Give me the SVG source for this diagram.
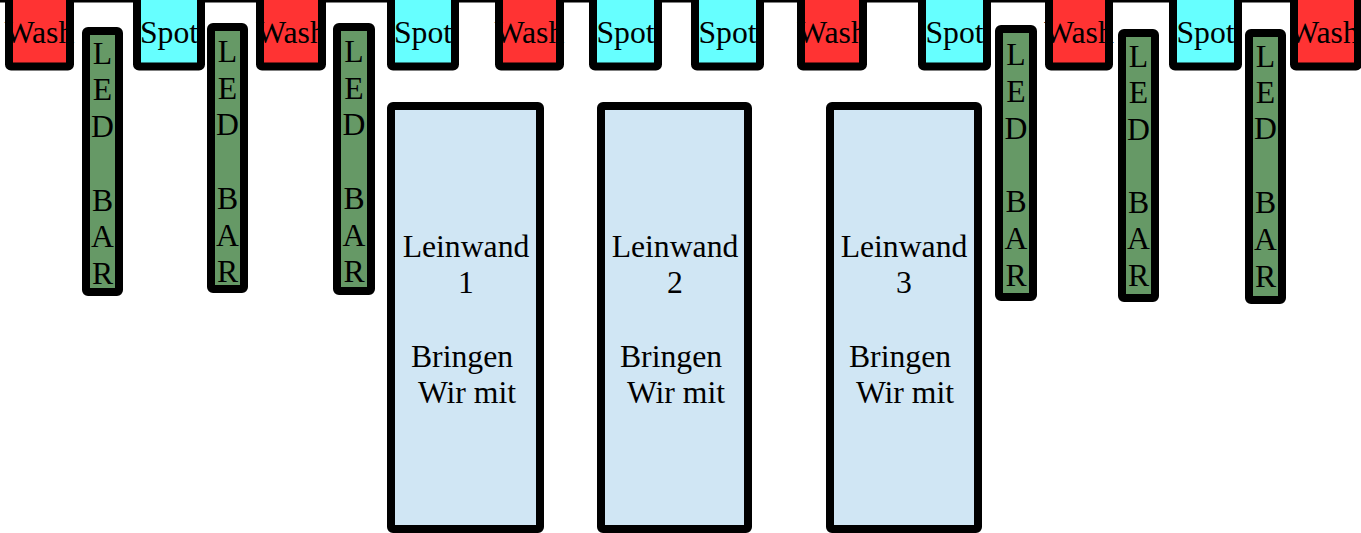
<svg xmlns="http://www.w3.org/2000/svg" width="1361" height="533" viewBox="0 0 1361 533">
<style>
text{font-family:"Liberation Serif","Times New Roman",serif;font-size:31.7px;fill:#000;}
.c{text-anchor:middle;}
.wash{fill:#ff3333;}
.spot{fill:#66ffff;}
.b{fill:none;stroke:#000;stroke-width:8;}
</style>
<defs><clipPath id="cw6"><rect x="1298" y="0" width="56" height="63"/></clipPath></defs>
<rect x="0" y="0" width="1361" height="2.5" fill="#000"/>
<g id="wash1"><rect class="wash" x="9" y="-10" width="61" height="76.5"/><text class="c" x="39.5" y="43">Wash</text><rect class="b" x="9" y="-10" width="61" height="76.5" rx="2"/></g>
<g id="spot1"><rect class="spot" x="137" y="-10" width="64" height="76.5"/><text class="c" x="169" y="43">Spot</text><rect class="b" x="137" y="-10" width="64" height="76.5" rx="2"/></g>
<g id="wash2"><rect class="wash" x="260" y="-10" width="62" height="76.5"/><text class="c" x="291" y="43">Wash</text><rect class="b" x="260" y="-10" width="62" height="76.5" rx="2"/></g>
<g id="spot2"><rect class="spot" x="391" y="-10" width="64" height="76.5"/><text class="c" x="423" y="43">Spot</text><rect class="b" x="391" y="-10" width="64" height="76.5" rx="2"/></g>
<g id="wash3"><rect class="wash" x="499" y="-10" width="61" height="76.5"/><text class="c" x="529.5" y="43">Wash</text><rect class="b" x="499" y="-10" width="61" height="76.5" rx="2"/></g>
<g id="spot3"><rect class="spot" x="593" y="-10" width="65" height="76.5"/><text class="c" x="625.5" y="43">Spot</text><rect class="b" x="593" y="-10" width="65" height="76.5" rx="2"/></g>
<g id="spot4"><rect class="spot" x="695" y="-10" width="65" height="76.5"/><text class="c" x="727.5" y="43">Spot</text><rect class="b" x="695" y="-10" width="65" height="76.5" rx="2"/></g>
<g id="wash4"><rect class="wash" x="801" y="-10" width="62" height="76.5"/><text class="c" x="832" y="43">Wash</text><rect class="b" x="801" y="-10" width="62" height="76.5" rx="2"/></g>
<g id="spot5"><rect class="spot" x="922" y="-10" width="65" height="76.5"/><text class="c" x="954.5" y="43">Spot</text><rect class="b" x="922" y="-10" width="65" height="76.5" rx="2"/></g>
<g id="wash5"><rect class="wash" x="1049" y="-10" width="60" height="76.5"/><text class="c" x="1079" y="43">Wash</text><rect class="b" x="1049" y="-10" width="60" height="76.5" rx="2"/></g>
<g id="spot6"><rect class="spot" x="1173" y="-10" width="65" height="76.5"/><text class="c" x="1205.5" y="43">Spot</text><rect class="b" x="1173" y="-10" width="65" height="76.5" rx="2"/></g>
<g id="wash6"><rect class="wash" x="1294" y="-10" width="64" height="76.5"/><text class="c" x="1324" y="43" clip-path="url(#cw6)">Wash</text><rect class="b" x="1294" y="-10" width="64" height="76.5" rx="2"/></g>

<g id="led1"><rect class="b" x="86" y="31" width="33" height="261" rx="2" style="fill:#669966"/>
<text class="c" x="102.5" y="63.5">L</text><text class="c" x="102.5" y="100.3">E</text><text class="c" x="102.5" y="137">D</text><text class="c" x="102.5" y="210.5">B</text><text class="c" x="102.5" y="247.2">A</text><text class="c" x="102.5" y="284">R</text></g>
<g id="led2"><rect class="b" x="211" y="27" width="33" height="262" rx="2" style="fill:#669966"/>
<text class="c" x="227.5" y="62">L</text><text class="c" x="227.5" y="98.7">E</text><text class="c" x="227.5" y="135.4">D</text><text class="c" x="227.5" y="208.8">B</text><text class="c" x="227.5" y="245.5">A</text><text class="c" x="227.5" y="282.2">R</text></g>
<g id="led3"><rect class="b" x="337" y="27" width="34" height="264" rx="2" style="fill:#669966"/>
<text class="c" x="354" y="62">L</text><text class="c" x="354" y="98.7">E</text><text class="c" x="354" y="135.4">D</text><text class="c" x="354" y="208.8">B</text><text class="c" x="354" y="245.5">A</text><text class="c" x="354" y="282.2">R</text></g>
<g id="led4"><rect class="b" x="999" y="29" width="34" height="268" rx="2" style="fill:#669966"/>
<text class="c" x="1016" y="65">L</text><text class="c" x="1016" y="101.8">E</text><text class="c" x="1016" y="138.6">D</text><text class="c" x="1016" y="212.2">B</text><text class="c" x="1016" y="249">A</text><text class="c" x="1016" y="285.8">R</text></g>
<g id="led5"><rect class="b" x="1122" y="33" width="33" height="265" rx="2" style="fill:#669966"/>
<text class="c" x="1138.5" y="66.5">L</text><text class="c" x="1138.5" y="103">E</text><text class="c" x="1138.5" y="139.5">D</text><text class="c" x="1138.5" y="212.5">B</text><text class="c" x="1138.5" y="249">A</text><text class="c" x="1138.5" y="285.5">R</text></g>
<g id="led6"><rect class="b" x="1249" y="33" width="33" height="267" rx="2" style="fill:#669966"/>
<text class="c" x="1265.5" y="67">L</text><text class="c" x="1265.5" y="103.2">E</text><text class="c" x="1265.5" y="139.4">D</text><text class="c" x="1265.5" y="213">B</text><text class="c" x="1265.5" y="250">A</text><text class="c" x="1265.5" y="287">R</text></g>

<g id="leinwand1"><rect class="b" x="391" y="106" width="149" height="423" rx="2" style="fill:#d0e6f4"/>
<text class="c" x="466" y="257">Leinwand</text><text class="c" x="466" y="293">1</text><text class="c" x="462" y="367">Bringen</text><text class="c" x="467" y="403">Wir mit</text></g>
<g id="leinwand2"><rect class="b" x="601" y="106" width="147" height="423" rx="2" style="fill:#d0e6f4"/>
<text class="c" x="675" y="257">Leinwand</text><text class="c" x="675" y="293">2</text><text class="c" x="671" y="367">Bringen</text><text class="c" x="676" y="403">Wir mit</text></g>
<g id="leinwand3"><rect class="b" x="830" y="106" width="148" height="423" rx="2" style="fill:#d0e6f4"/>
<text class="c" x="904" y="257">Leinwand</text><text class="c" x="904" y="293">3</text><text class="c" x="900" y="367">Bringen</text><text class="c" x="905" y="403">Wir mit</text></g>
<g id="connectors"></g>
</svg>
